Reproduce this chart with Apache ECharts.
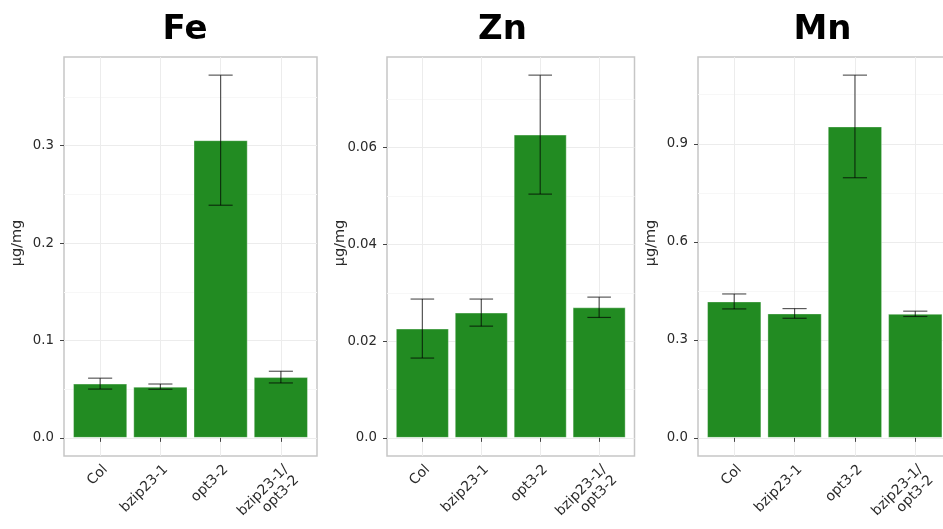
<!DOCTYPE html>
<html>
<head>
<meta charset="utf-8">
<script src="https://cdn.jsdelivr.net/npm/echarts@6/dist/echarts.min.js"></script>
<style>
  html, body { margin: 0; padding: 0; background: #ffffff; }
  #chart { width: 943px; height: 529px; }
</style>
</head>
<body>
<div id="chart"></div>
<script>
// Genotypes on the x axis (same order in every panel)
const genotypes = ['Col', 'bzip23-1', 'opt3-2', 'bzip23-1/\nopt3-2'];

// Element concentration, µg/mg: means and error half-widths
const feMean = [0.0557, 0.0526, 0.3057, 0.0624];
const feErr  = [0.0056, 0.0027, 0.0668, 0.0060];
const znMean = [0.0226, 0.0259, 0.0627, 0.0270];
const znErr  = [0.0061, 0.0028, 0.0123, 0.0021];
const mnMean = [0.4175, 0.3808, 0.9530, 0.3796];
const mnErr  = [0.0229, 0.0148, 0.1570, 0.0081];

// Labelled y ticks and the minor grid positions between them
const feTicks = ['0.0', '0.1', '0.2', '0.3'];
const znTicks = ['0.0', '0.02', '0.04', '0.06'];
const mnTicks = ['0.0', '0.3', '0.6', '0.9'];
const feMinor = [0.05, 0.15, 0.25, 0.35];
const znMinor = [0.01, 0.03, 0.05, 0.07];
const mnMinor = [0.15, 0.45, 0.75, 1.05];

const unitLabel = 'μg/mg';

const panels = [
  { name: 'Fe', mean: feMean, err: feErr, ticks: feTicks, minor: feMinor },
  { name: 'Zn', mean: znMean, err: znErr, ticks: znTicks, minor: znMinor },
  { name: 'Mn', mean: mnMean, err: mnErr, ticks: mnTicks, minor: mnMinor }
];

// Panel frames (px) and panel title centres
const frames = [
  { left: 64,  width: 253,   titleX: 185 },
  { left: 387, width: 247.5, titleX: 502.5 },
  { left: 698, width: 253.5, titleX: 822.5 }
];
const frameTop = 57;
const frameHeight = 399;

const FONT = 'DejaVu Sans';
const TEXT = '#2a2a2a';
const BAR = '#228B22';

const option = {
  animation: false,
  backgroundColor: '#ffffff',
  grid: [],
  xAxis: [],
  yAxis: [],
  series: [],
  graphic: []
};

panels.forEach((p, i) => {
  const f = frames[i];
  const cats = p.mean.map((_, j) => j + 1);
  const hi = Math.max(...p.mean.map((m, j) => m + p.err[j]));
  const tickVals = p.ticks.map(Number);

  // panel title
  option.graphic.push({
    type: 'text',
    x: f.titleX, y: 13,
    style: {
      text: p.name, fontFamily: FONT, fontWeight: 'bold', fontSize: 34, fill: '#000',
      align: 'center', verticalAlign: 'top'
    }
  });

  // the panels run off the page edge, so the frame keeps its size
  option.grid.push({
    left: f.left, top: frameTop, width: f.width, height: frameHeight,
    outerBoundsMode: 'none', containLabel: false,
    show: true, backgroundColor: '#ffffff',
    borderColor: '#c6c6c6', borderWidth: 1.5
  });

  option.xAxis.push({
    type: 'value', gridIndex: i,
    min: 0.4, max: cats.length + 0.6,
    axisLine: { show: false },
    axisTick: { customValues: cats, length: 4, lineStyle: { color: '#444', width: 1 } },
    axisLabel: {
      customValues: cats,
      formatter: v => genotypes[Math.round(v) - 1],
      rotate: 45, margin: 6, verticalAlign: 'top', align: 'right',
      fontFamily: FONT, fontSize: 14, color: TEXT, lineHeight: 15
    },
    splitLine: { show: true, lineStyle: { color: '#ececec', width: 1 } }
  });

  // labelled axis with major grid lines
  option.yAxis.push({
    type: 'value', gridIndex: i,
    min: -0.05 * hi, max: 1.05 * hi,
    axisLine: { show: false },
    axisTick: { customValues: tickVals, length: 4, lineStyle: { color: '#444', width: 1 } },
    axisLabel: {
      customValues: tickVals,
      formatter: v => p.ticks[tickVals.findIndex(t => Math.abs(t - v) < 1e-9)],
      margin: 10, fontFamily: FONT, fontSize: 13.3, color: TEXT
    },
    splitLine: { show: true, lineStyle: { color: '#ececec', width: 1 } }
  });
  // silent axis carrying the minor grid lines
  option.yAxis.push({
    type: 'value', gridIndex: i,
    min: -0.05 * hi, max: 1.05 * hi,
    axisLine: { show: false },
    axisTick: { show: false, customValues: p.minor },
    axisLabel: { show: false, customValues: p.minor },
    splitLine: { show: true, lineStyle: { color: '#f7f7f7', width: 1 } }
  });

  // y axis title
  option.graphic.push({
    type: 'text',
    x: f.left - 47, y: 243,
    rotation: Math.PI / 2,
    style: {
      text: unitLabel, fontFamily: FONT, fontSize: 14.5, fill: TEXT,
      align: 'center', verticalAlign: 'middle'
    }
  });

  option.series.push({
    type: 'bar',
    xAxisIndex: i, yAxisIndex: 2 * i,
    barWidth: '90%',
    data: p.mean.map((m, j) => [cats[j], m]),
    itemStyle: { color: BAR, borderColor: 'rgba(255,255,255,0.35)', borderWidth: 1 },
    z: 2
  });

  option.series.push({
    type: 'custom',
    xAxisIndex: i, yAxisIndex: 2 * i,
    data: p.mean.map((m, j) => [cats[j], m - p.err[j], m + p.err[j]]),
    z: 3,
    renderItem: (params, api) => {
      const x = api.value(0);
      const lo = api.coord([x, api.value(1)]);
      const up = api.coord([x, api.value(2)]);
      const half = api.size([0.4, 0])[0] / 2;
      const style = { stroke: 'rgba(0,0,0,0.65)', lineWidth: 1.2, fill: null };
      return {
        type: 'group',
        children: [
          { type: 'line', shape: { x1: lo[0], y1: lo[1], x2: up[0], y2: up[1] }, style },
          { type: 'line', shape: { x1: up[0] - half, y1: up[1], x2: up[0] + half, y2: up[1] }, style },
          { type: 'line', shape: { x1: lo[0] - half, y1: lo[1], x2: lo[0] + half, y2: lo[1] }, style }
        ]
      };
    }
  });
});

const chart = echarts.init(document.getElementById('chart'), null, { renderer: 'canvas' });
chart.setOption(option);
</script>
</body>
</html>
